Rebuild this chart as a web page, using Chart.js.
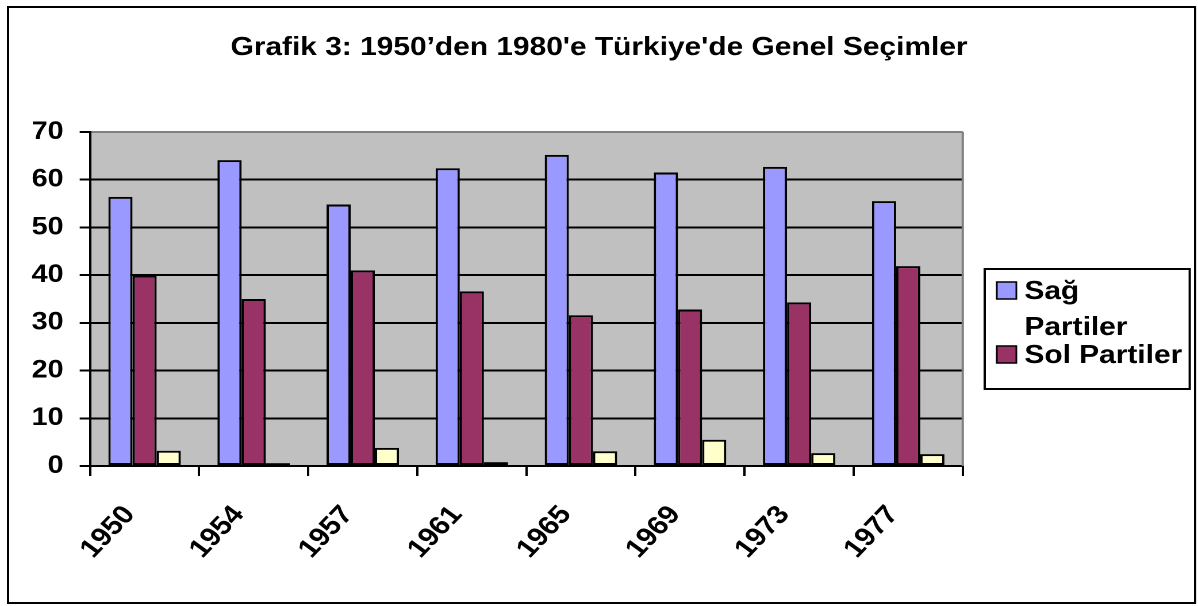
<!DOCTYPE html>
<html>
<head>
<meta charset="utf-8">
<script src="https://cdn.jsdelivr.net/npm/chart.js@4.4.1/dist/chart.umd.min.js"></script>
<style>
  html, body { margin: 0; padding: 0; background: #fff; overflow: hidden; }
  #wrap { position: absolute; left: 0; top: 0; width: 1042px; height: 606px; transform: scaleX(1.1497); transform-origin: 0 0; }
</style>
</head>
<body>
<div id="wrap"><canvas id="c"></canvas></div>
<script>
const titleText = "Grafik 3: 1950’den 1980'e Türkiye'de Genel Seçimler";
const years = ['1950', '1954', '1957', '1961', '1965', '1969', '1973', '1977'];
const sagPartiler = [56.4, 64.1, 54.8, 62.4, 65.2, 61.5, 62.7, 55.5];
const solPartiler = [39.9, 35.0, 41.0, 36.6, 31.6, 32.8, 34.3, 41.9];
const digerPartiler = [3.2, 0.6, 3.8, 0.8, 3.1, 5.5, 2.7, 2.5];
const seriesNames = ['Sağ Partiler', 'Sol Partiler', 'Diğer'];
const legendSeries = [0, 1];
const yMin = 0, yMax = 70, yStep = 10;

const FONT = "'Liberation Sans', Arial, sans-serif";
const colors = ['#9999FF', '#993366', '#FFFFCC'];

const framePlugin = {
  id: 'frame',
  beforeDraw(chart) {
    const { ctx, chartArea: a } = chart;
    ctx.save();
    ctx.fillStyle = '#fff';
    ctx.fillRect(0, 0, chart.width, chart.height);
    ctx.lineWidth = 2;
    ctx.strokeStyle = '#000';
    ctx.strokeRect(7, 7, chart.width - 9.5, chart.height - 10);
    ctx.fillStyle = '#C0C0C0';
    ctx.fillRect(a.left, a.top, a.right - a.left, a.bottom - a.top);
    ctx.restore();
  },
  afterDraw(chart) {
    const { ctx, chartArea: a } = chart;
    ctx.save();
    // right border of plot area
    ctx.strokeStyle = '#808080';
    ctx.lineWidth = 2;
    ctx.beginPath();
    ctx.moveTo(a.right, a.top);
    ctx.lineTo(a.right, a.bottom);
    ctx.stroke();
    // title
    ctx.fillStyle = '#000';
    ctx.font = 'bold 26px ' + FONT;
    ctx.textAlign = 'center';
    ctx.textBaseline = 'alphabetic';
    ctx.fillText(titleText, chart.width / 2, 55);
    // legend
    ctx.lineWidth = 2;
    ctx.strokeStyle = '#000';
    ctx.strokeRect(856.5, 269, 178.3, 120);
    ctx.textAlign = 'left';
    let y = 299;
    legendSeries.forEach((di) => {
      const ds = chart.data.datasets[di];
      ctx.fillStyle = ds.backgroundColor;
      ctx.fillRect(867, y - 17, 17, 17);
      ctx.lineWidth = 1.5;
      ctx.strokeStyle = '#000';
      ctx.strokeRect(867, y - 17, 17, 17);
      const words = ds.label.split(' ');
      const lines = [];
      let cur = '';
      words.forEach(w => {
        const test = cur ? cur + ' ' + w : w;
        if (ctx.measureText(test).width > 140 && cur) { lines.push(cur); cur = w; }
        else cur = test;
      });
      if (cur) lines.push(cur);
      ctx.fillStyle = '#000';
      lines.forEach((ln, li) => {
        if (li > 0) y += 36;
        ctx.fillText(ln, 891, y);
      });
      y += 28;
    });
    ctx.restore();
  }
};

const makeDs = (i, data) => ({
  label: seriesNames[i],
  data: data,
  backgroundColor: colors[i],
  borderColor: '#000',
  borderWidth: 2,
  borderSkipped: false,
  categoryPercentage: 0.664,
  barPercentage: 1.0
});

new Chart(document.getElementById('c'), {
  type: 'bar',
  data: {
    labels: years,
    datasets: [makeDs(0, sagPartiler), makeDs(1, solPartiler), makeDs(2, digerPartiler)]
  },
  options: {
    responsive: true,
    maintainAspectRatio: false,
    devicePixelRatio: 2,
    animation: false,
    layout: { padding: { left: 0, right: 204.6, top: 132, bottom: 0 } },
    plugins: {
      legend: { display: false },
      title: { display: false },
      tooltip: { enabled: false }
    },
    scales: {
      x: {
        ticks: {
          minRotation: 50, maxRotation: 50, autoSkip: false,
          padding: 24, labelOffset: -13,
          color: '#000', font: { family: FONT, size: 26, weight: 'bold' }
        },
        grid: { drawOnChartArea: false, drawTicks: true, tickLength: 10, color: '#000', lineWidth: 2, offset: true },
        border: { color: '#000', width: 2 },
        afterFit(s) { s.height = 140; }
      },
      y: {
        min: yMin, max: yMax,
        ticks: { stepSize: yStep, padding: 14, color: '#000', font: { family: FONT, size: 25, weight: 'bold' } },
        grid: {
          color: (c) => (c.tick && c.tick.value === yMax) ? '#808080' : '#000',
          tickColor: '#000', lineWidth: 2, tickLength: 9
        },
        border: { color: '#000', width: 2 },
        afterFit(s) { s.width = 78.3; }
      }
    }
  },
  plugins: [framePlugin]
});
</script>
</body>
</html>
